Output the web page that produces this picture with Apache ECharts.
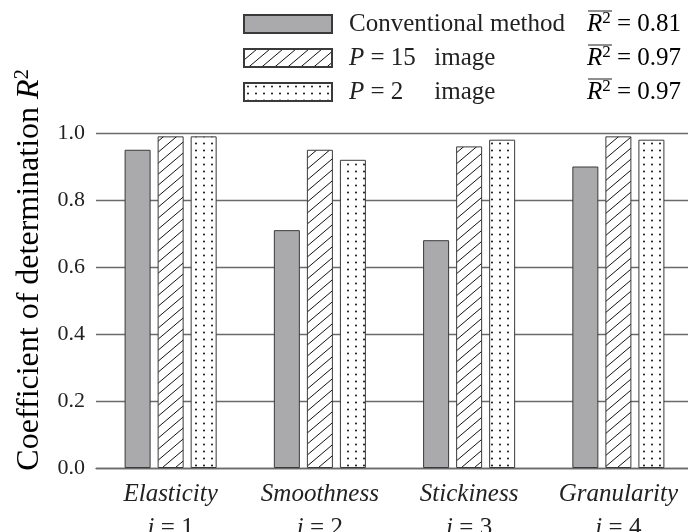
<!DOCTYPE html>
<html>
<head>
<meta charset="utf-8">
<script src="https://cdn.jsdelivr.net/npm/echarts@6/dist/echarts.min.js"></script>
<style>
html,body{margin:0;padding:0;background:#fff;}
#chart{width:688px;height:532px;}
</style>
</head>
<body>
<div id="chart"></div>
<script>
// ---- data ----
const categories = ['Elasticity', 'Smoothness', 'Stickiness', 'Granularity'];
const indexLabels = ['1', '2', '3', '4'];
const conventional = [0.95, 0.71, 0.68, 0.90];
const p15Image = [0.99, 0.95, 0.96, 0.99];
const p2Image = [0.99, 0.92, 0.98, 0.98];
const meanR2 = ['0.81', '0.97', '0.97'];
const yTicks = [0, 0.2, 0.4, 0.6, 0.8, 1.0];

const FONT = '"Liberation Serif", "DejaVu Serif", serif';

function hatchPattern() {
  const w = 13, h = 11;
  const c = document.createElement('canvas');
  c.width = w; c.height = h;
  const g = c.getContext('2d');
  g.fillStyle = '#fff'; g.fillRect(0, 0, w, h);
  g.strokeStyle = '#111'; g.lineWidth = 1;
  g.beginPath();
  for (let k = -1; k <= 1; k++) {
    g.moveTo(k * w - 1, h + h / w);
    g.lineTo(k * w + w + 1, -h / w);
  }
  g.stroke();
  return { image: c, repeat: 'repeat' };
}
function dotPattern() {
  const w = 8, h = 7;
  const c = document.createElement('canvas');
  c.width = w; c.height = h;
  const g = c.getContext('2d');
  g.fillStyle = '#fff'; g.fillRect(0, 0, w, h);
  g.fillStyle = '#111';
  g.beginPath(); g.arc(4, 3.5, 1.0, 0, Math.PI * 2); g.fill();
  return { image: c, repeat: 'repeat' };
}

const chart = echarts.init(document.getElementById('chart'), null, { renderer: 'canvas' });

const barBase = { type: 'bar', barWidth: 26, barGap: '27%', animation: false };

const option = {
  backgroundColor: '#fff',
  animation: false,
  grid: { left: 96, right: -5, top: 133, bottom: 64, containLabel: false, outerBoundsMode: 'none' },
  legend: {
    orient: 'vertical',
    left: 243, top: 7, padding: 0,
    itemWidth: 88, itemHeight: 18, itemGap: 0,
    icon: 'rect',
    selectedMode: false,
    textStyle: {
      fontFamily: FONT, fontSize: 25, color: '#222', lineHeight: 34,
      padding: [0, 0, 0, 12],
      rich: {
        n: { fontFamily: FONT, fontSize: 25, color: '#222' },
        it: { fontFamily: FONT, fontSize: 25, fontStyle: 'italic', color: '#222' },
        eq: { fontFamily: FONT, fontSize: 25, color: '#222', width: 70 }
      }
    },
    formatter: function (name) {
      if (name === 'Conventional method') return '{n|Conventional method}';
      if (name === 'P = 15 image') return '{it|P}{eq| = 15}{n|image}';
      return '{it|P}{eq| = 2}{n|image}';
    },
    data: ['Conventional method', 'P = 15 image', 'P = 2 image']
  },
  xAxis: {
    type: 'category',
    data: categories,
    axisLine: { show: true, lineStyle: { color: '#6a6a6a', width: 1.3 } },
    axisTick: { show: false },
    axisLabel: {
      margin: 9,
      interval: 0,
      lineHeight: 34,
      formatter: function (v, idx) {
        return '{c|' + v + '}\n{i|i}{n| = ' + indexLabels[idx] + '}';
      },
      rich: {
        c: { fontFamily: FONT, fontSize: 25, fontStyle: 'italic', color: '#222', lineHeight: 34 },
        i: { fontFamily: FONT, fontSize: 25, fontStyle: 'italic', color: '#222', lineHeight: 34 },
        n: { fontFamily: FONT, fontSize: 25, color: '#222', lineHeight: 34 }
      }
    }
  },
  yAxis: {
    type: 'value',
    min: yTicks[0], max: yTicks[yTicks.length - 1], interval: 0.2,
    axisLine: { show: false },
    axisTick: { show: false },
    splitLine: { show: true, lineStyle: { color: '#6a6a6a', width: 1.3 } },
    axisLabel: {
      margin: 11,
      fontFamily: FONT, fontSize: 22, color: '#222',
      formatter: function (v) { return v.toFixed(1); }
    }
  },
  series: [
    Object.assign({}, barBase, {
      name: 'Conventional method', data: conventional,
      itemStyle: { color: '#aaaaad', borderColor: '#3a3a3a', borderWidth: 1 }
    }),
    Object.assign({}, barBase, {
      name: 'P = 15 image', data: p15Image,
      itemStyle: { color: hatchPattern(), borderColor: '#3a3a3a', borderWidth: 1 }
    }),
    Object.assign({}, barBase, {
      name: 'P = 2 image', data: p2Image,
      itemStyle: { color: dotPattern(), borderColor: '#3a3a3a', borderWidth: 1 }
    })
  ],
  graphic: []
};

// y axis title
option.graphic.push({
  type: 'text',
  x: 30, y: 270,
  rotation: Math.PI / 2,
  style: {
    text: '{n|Coefficient of determination }{it|R}{sup|2}',
    align: 'center', verticalAlign: 'middle',
    rich: {
      n: { fontFamily: FONT, fontSize: 32, color: '#222' },
      it: { fontFamily: FONT, fontSize: 32, fontStyle: 'italic', color: '#222' },
      sup: { fontFamily: FONT, fontSize: 20, color: '#222', verticalAlign: 'top', padding: [0, 0, 14, 0] }
    }
  }
});

// legend mean R^2 texts
const rowCenters = [24, 58, 92];
meanR2.forEach(function (v, k) {
  option.graphic.push({
    type: 'text',
    x: 587, y: rowCenters[k],
    style: {
      text: '{it|R}{sup|2}{n| = ' + v + '}',
      align: 'left', verticalAlign: 'middle',
      rich: {
        n: { fontFamily: FONT, fontSize: 25, color: '#222' },
        it: { fontFamily: FONT, fontSize: 25, fontStyle: 'italic', color: '#222' },
        sup: { fontFamily: FONT, fontSize: 17, color: '#222', padding: [0, 0, 10, 0] }
      }
    }
  });
  option.graphic.push({
    type: 'line',
    shape: { x1: 588, y1: rowCenters[k] - 13, x2: 612, y2: rowCenters[k] - 13 },
    style: { stroke: '#444', lineWidth: 1.2 }
  });
});

chart.setOption(option);
</script>
</body>
</html>
